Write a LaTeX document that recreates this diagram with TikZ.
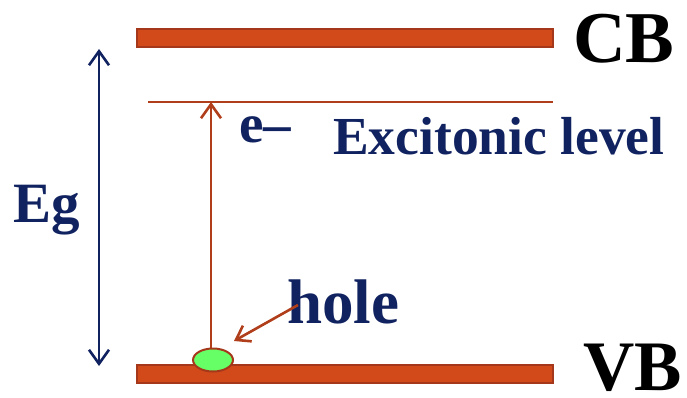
\documentclass[tikz,border=0pt]{standalone}
\usepackage{fontspec}
\setmainfont{Liberation Serif}
\usetikzlibrary{arrows.meta,shapes.geometric}
\definecolor{navy}{RGB}{16,34,96}
\definecolor{barfill}{RGB}{210,74,26}
\definecolor{bardraw}{RGB}{165,56,26}
\definecolor{redline}{RGB}{176,62,26}
\definecolor{holegreen}{RGB}{102,255,102}
\tikzset{
  bandbar/.style={fill=barfill,draw=bardraw,line width=1.6pt},
  lbl/.style={inner sep=0pt,anchor=base west,font=\bfseries},
  barb/.style={line width=2.6pt},
}
\begin{document}
\begin{tikzpicture}[x=1pt,y=-1pt]
\useasboundingbox (0,0) rectangle (687,398);
% bands
\path[bandbar] (137,29) rectangle (553,47);
\path[bandbar] (137,365) rectangle (553,383);
\node[lbl,text=black,font=\bfseries\fontsize{73}{80}\selectfont] (cb) at (573,63) {CB};
\node[lbl,text=black,text depth=0pt,font=\bfseries\fontsize{71}{80}\selectfont] (vb) at (583,390) {VB};
% excitonic level
\coordinate (exl) at (148,102);
\coordinate (exr) at (553,102);
\draw[redline,line width=1.8pt] (exl) -- (exr);
\node[lbl,text=navy,font=\bfseries\fontsize{53.5}{60}\selectfont] (exc) at (333,154) {Excitonic level};
% Eg arrow
\coordinate (egtop) at (99,49);
\coordinate (egbot) at (99,366);
\draw[navy,barb,{Straight Barb[length=14pt,width=20pt]}-{Straight Barb[length=14pt,width=20pt]}] (egtop) -- (egbot);
\node[lbl,text=navy,font=\bfseries\fontsize{57}{64}\selectfont] (eg) at (13,222) {Eg};
% hole
\node[ellipse,draw=bardraw,fill=holegreen,line width=2pt,minimum width=40pt,minimum height=23pt,inner sep=0pt] (hole) at (213,360) {};
\coordinate (etop) at (211,102);
\draw[redline,barb,-{Straight Barb[length=14pt,width=20pt]}] (hole.north -| etop) -- (etop);
\node[lbl,text=navy,font=\bfseries\fontsize{55}{60}\selectfont] (em) at (239,143) {e–};
\node[lbl,text=navy,font=\bfseries\fontsize{63}{70}\selectfont] (holelbl) at (287,323) {hole};
\coordinate (hs) at (298,305);
\draw[redline,barb,-{Straight Barb[length=13pt,width=18pt]}] (hs) -- (234,341);
\end{tikzpicture}
\end{document}
